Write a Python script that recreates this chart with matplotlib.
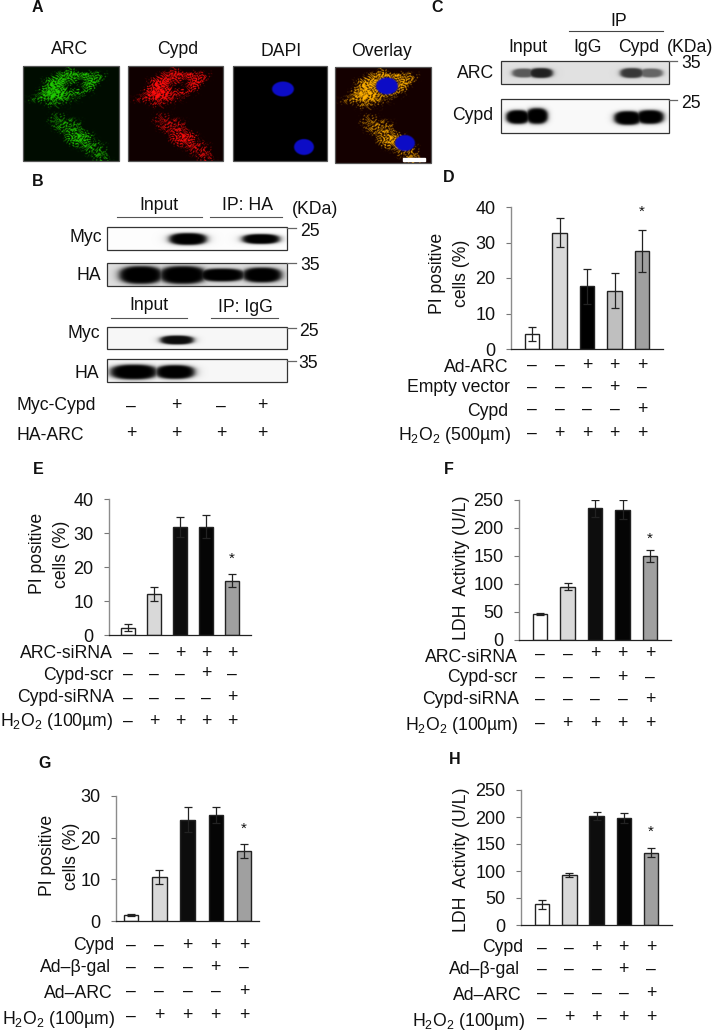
"""Multi-panel figure: micrographs, co-IP blots and bar charts (panels A-H)."""

import numpy as np
import matplotlib
matplotlib.use("Agg")
import matplotlib.pyplot as plt
from matplotlib.patches import Rectangle
from matplotlib.transforms import blended_transform_factory

plt.rcParams["font.family"] = ["Liberation Sans", "DejaVu Sans"]
plt.rcParams["mathtext.default"] = "regular"

W, H = 714, 1033
FS = 12.7

GRAYS = ["white", "#d9d9d9", "black", "#bfbfbf", "#a0a0a0"]
GRAYS_SI = ["white", "#d9d9d9", "#0d0d0d", "#050505", "#a0a0a0"]

# bar charts
d_values = [4.3, 32.8, 17.7, 16.4, 27.7]
d_errors = [2.0, 4.0, 4.9, 4.9, 5.9]
d_ticks = [0, 10, 20, 30, 40]
d_rows = ["Ad-ARC", "Empty vector", "Cypd", "H$_2$O$_2$ (500µm)"]
d_signs = ["--+++", "---+-", "----+", "-++++"]

e_values = [2.2, 12.0, 31.8, 31.8, 16.0]
e_errors = [1.0, 2.0, 3.0, 3.4, 2.0]
e_ticks = [0, 10, 20, 30, 40]
e_rows = ["ARC-siRNA", "Cypd-scr", "Cypd-siRNA", "H$_2$O$_2$ (100µm)"]
e_signs = ["--+++", "---+-", "----+", "-++++"]

f_values = [47, 95, 235, 233, 150]
f_errors = [1.5, 6, 15, 17, 10]
f_ticks = [0, 50, 100, 150, 200, 250]

g_values = [1.4, 10.5, 24.3, 25.4, 16.8]
g_errors = [0.3, 1.7, 3.0, 1.9, 1.6]
g_ticks = [0, 10, 20, 30]
g_rows = ["Cypd", "Ad–β-gal", "Ad–ARC", "H$_2$O$_2$ (100µm)"]
g_signs = ["--+++", "---+-", "----+", "-++++"]

h_values = [38, 93, 202, 198, 134]
h_errors = [8, 3.5, 7, 9, 8]
h_ticks = [0, 50, 100, 150, 200, 250]

# rough spot density of the two cells (rows top to bottom)
cell_density = [
    "0000000320000000",
    "0000036776654200",
    "0002678452576100",
    "0003776101660000",
    "0027887655310000",
    "1245676421000000",
    "0001331100000000",
    "0000010000000000",
    "0000132100000000",
    "0000244342000000",
    "0000024554000000",
    "0000002456520000",
    "0000000568631000",
    "0000000024553200",
    "0000000000245400",
    "0000000000013510",
]
nuclei_dapi = [(283, 89, 11, 7.5), (304, 147, 10, 8)]
nuclei_overlay = [(387, 86, 11, 8.5), (405, 143, 10, 8)]

# blot bands: centre x, centre y, half width, half height, darkness
blots_b = [
    ((107, 227, 287, 250), 0.99, [(188, 239, 19, 6, 1.0), (261, 239, 19, 5, 1.0)]),
    ((107, 263, 287, 286), 0.88, [(141, 275, 22, 9, 1.0), (183, 275, 24, 9, 1.0),
                                  (222, 275, 24, 6.5, 1.0), (262, 275, 20, 7.5, 1.0)]),
    ((107, 327, 287, 349), 0.97, [(177, 340, 17, 4.5, 0.95)]),
    ((107, 359, 287, 382), 0.97, [(134, 372, 24, 7.5, 1.0), (175, 372, 20, 7, 1.0)]),
]
blots_c = [
    ((501, 61, 669, 84), 0.88, [(524, 73, 12, 4.5, 0.6), (541, 73, 12, 5, 0.85),
                                (632, 73, 12, 5, 0.75), (651, 73, 12, 4.5, 0.55)]),
    ((501, 99, 669, 133), 0.98, [(518, 117, 12, 7, 1.0), (537, 116, 11, 8, 1.0),
                                 (628, 118, 14, 7, 1.0), (650, 117, 14, 7, 1.0)]),
]


def put(ov, x, y, s, ha="center", fs=FS, **kw):
    ov.text(x, y, s, ha=ha, va="center", fontsize=fs, color="#111111", **kw)


def density_image(size=192):
    grid = np.array([[int(c) for c in row] for row in cell_density], float) / 8.0
    u = (np.arange(size) + 0.5) / size * 16 - 0.5
    i0 = np.clip(np.floor(u).astype(int), 0, 15)
    i1 = np.clip(i0 + 1, 0, 15)
    t = np.clip(u - i0, 0, 1)
    rows = grid[i0][:, i0] * (1 - t)[:, None] + grid[i1][:, i0] * t[:, None]
    dens = rows * (1 - t)[None, :] + grid[i0][:, i1] * (1 - t)[:, None] * t[None, :] \
        + grid[i1][:, i1] * t[:, None] * t[None, :]
    # speckle of the staining: warped waves, spots get denser with the grid value
    yy, xx = np.mgrid[0:size, 0:size].astype(float)
    wx = xx + 5 * np.sin(yy * 0.11) + 3 * np.sin(yy * 0.29 + xx * 0.07)
    wy = yy + 5 * np.sin(xx * 0.13 + 1.0) + 3 * np.sin(xx * 0.31 - yy * 0.05)
    tex = np.sin(wx * 0.93 + wy * 0.31) + np.sin(wy * 1.07 - wx * 0.37) \
        + np.sin(wx * 0.51 - wy * 0.83 + 1.0) + np.sin(wx * 1.29 + wy * 0.71 + 2.0) \
        + np.sin(wx * 0.23 + wy * 1.43)
    tex = (tex + 5) / 10
    return np.clip((tex - (0.72 - dens * 0.42)) * 7, 0, 1) * np.clip(dens * 4, 0, 1)


def add_nuclei(img, box, nuclei):
    x0, y0, x1, y1 = box
    ny, nx = img.shape[:2]
    yy, xx = np.mgrid[0:ny, 0:nx]
    px = x0 + (xx + 0.5) / nx * (x1 - x0)
    py = y0 + (yy + 0.5) / ny * (y1 - y0)
    for cx, cy, rx, ry in nuclei:
        d = ((px - cx) / rx) ** 2 + ((py - cy) / ry) ** 2
        a = np.clip((1.15 - d) * 3, 0, 1)[..., None]
        img[:] = img * (1 - a) + a * np.array([0.05, 0.05, 0.78])
    return img


def show(ov, img, box, edge="#555555", **kw):
    x0, y0, x1, y1 = box
    ov.imshow(img, extent=(x0, x1, y1, y0), aspect="auto", zorder=2, **kw)
    ov.add_patch(Rectangle((x0, y0), x1 - x0, y1 - y0, fill=False, ec=edge, lw=0.9, zorder=3))


def micrographs(ov):
    dens = density_image()
    black = np.zeros(dens.shape + (3,))

    green = black.copy()
    green[..., 1] = dens * 0.75 + 0.05
    green[..., 0] = dens * 0.12
    show(ov, green, (23, 66, 119, 161), interpolation="bilinear")

    red = black.copy()
    red[..., 0] = dens * 0.95 + 0.06
    red[..., 1] = dens * 0.05
    red[..., 2] = dens * 0.05
    show(ov, np.clip(red, 0, 1), (128, 66, 223, 161), interpolation="bilinear")

    blue = add_nuclei(black.copy(), (233, 66, 327, 161), nuclei_dapi)
    show(ov, blue, (233, 66, 327, 161), interpolation="bilinear")

    over = black.copy()
    over[..., 0] = dens * 0.95 + 0.08
    over[..., 1] = dens * 0.7
    over = add_nuclei(np.clip(over, 0, 1), (335, 67, 431, 163), nuclei_overlay)
    show(ov, over, (335, 67, 431, 163), interpolation="bilinear")
    ov.add_patch(Rectangle((403, 158), 22, 3, color="white", zorder=4))

    put(ov, 70, 50, "ARC")
    put(ov, 178, 49, "Cypd")
    put(ov, 281, 52, "DAPI")
    put(ov, 381, 51, "Overlay")


def blot(ov, box, bg, bands):
    x0, y0, x1, y1 = box
    xs = np.arange(x0, x1, 0.5) + 0.25
    ys = np.arange(y0, y1, 0.5) + 0.25
    xx, yy = np.meshgrid(xs, ys)
    dark = np.zeros_like(xx)
    for cx, cy, hw, hh, level in bands:
        d = np.abs((xx - cx) / hw) ** 2.5 + np.abs((yy - cy) / hh) ** 2.5
        dark = np.maximum(dark, level / (1 + d ** 4))
    show(ov, bg * (1 - dark), box, edge="#333333", cmap="gray", vmin=0, vmax=1, interpolation="bilinear")


def marker(ov, x0, x1, y, label, lx, ly):
    ov.plot([x0, x1], [y, y], color="#666666", lw=0.9, zorder=3)
    put(ov, lx, ly, label)


def blots(ov):
    for box, bg, bands in blots_b + blots_c:
        blot(ov, box, bg, bands)

    # panel B
    put(ov, 159, 205, "Input")
    put(ov, 247, 205, "IP: HA")
    put(ov, 315, 209, "(KDa)")
    put(ov, 149, 306, "Input")
    put(ov, 245, 307, "IP: IgG")
    for x0, x1, y in [(117, 202, 217), (210, 282, 217), (111, 187, 318), (211, 278, 318)]:
        ov.plot([x0, x1], [y, y], color="#555555", lw=0.8, zorder=3)
    put(ov, 102, 238, "Myc", ha="right")
    put(ov, 101, 275, "HA", ha="right")
    put(ov, 100, 334, "Myc", ha="right")
    put(ov, 99, 374, "HA", ha="right")
    marker(ov, 287, 296, 228, "25", 310, 231)
    marker(ov, 287, 296, 263, "35", 310, 266)
    marker(ov, 287, 296, 328, "25", 309, 331)
    marker(ov, 287, 296, 361, "35", 308, 363)
    put(ov, 17, 406, "Myc-Cypd", ha="left")
    put(ov, 17, 435, "HA-ARC", ha="left")
    for x, a, b in zip([131, 176, 221, 262], "-+-+", "++++"):
        put(ov, x, 406, "–" if a == "-" else "+")
        put(ov, x, 434, "–" if b == "-" else "+")

    # panel C
    put(ov, 619, 21, "IP")
    ov.plot([569, 663], [31, 31], color="#444444", lw=0.8, zorder=3)
    put(ov, 528, 48, "Input")
    put(ov, 588, 48, "IgG")
    put(ov, 639, 48, "Cypd")
    put(ov, 690, 47, "(KDa)")
    put(ov, 494, 73, "ARC", ha="right")
    put(ov, 493, 115, "Cypd", ha="right")
    marker(ov, 669, 677, 61, "35", 691, 64)
    marker(ov, 669, 677, 100, "25", 691, 103)


def bar_panel(fig, ov, box, first, last, barw, values, errors, ticks, colors, star_y,
              rows, signs, row_y, label_xy, ylabels):
    x0, y_top, x1, y_bot = box
    ax = fig.add_axes([x0 / W, 1 - y_bot / H, (x1 - x0) / W, (y_bot - y_top) / H])
    ax.patch.set_alpha(0)
    step = (last - first) / 4
    pos = np.arange(len(values))
    ax.bar(pos, values, width=barw / step, color=colors, edgecolor="#222222", lw=1.0,
           yerr=errors, ecolor="#222222", capsize=2.6, error_kw={"elinewidth": 0.9, "capthick": 0.9})
    ax.set_xlim((x0 - first) / step, (x1 - first) / step)
    ax.set_ylim(ticks[0], ticks[-1])
    ax.set_xticks([])
    ax.set_yticks(ticks)
    ax.tick_params(axis="y", length=3.8, width=0.8, color="#777777", pad=7.4, labelsize=13,
                   labelcolor="#111111")
    for side in ["top", "right"]:
        ax.spines[side].set_visible(False)
    ax.spines["left"].set_color("#8c8c8c")
    ax.spines["left"].set_linewidth(1.0)
    ax.spines["bottom"].set_color("#222222")
    ax.spines["bottom"].set_linewidth(0.9)

    tr = blended_transform_factory(ax.transData, ov.transData)
    ax.text(pos[-1], star_y, "*", transform=tr, ha="center", va="center", fontsize=11, color="#111111")
    for row, y in zip(signs, row_y):
        for i, ch in enumerate(row):
            ax.text(pos[i], y, "–" if ch == "-" else "+", transform=tr, ha="center", va="center",
                    fontsize=FS, color="#111111")
    for name, (lx, ly) in zip(rows, label_xy):
        put(ov, lx, ly, name, ha="right")
    for text, lx, ly in ylabels:
        put(ov, lx, ly, text, rotation=90)


def main():
    fig = plt.figure(figsize=(W / 100, H / 100), dpi=100)
    ov = fig.add_axes([0, 0, 1, 1])
    ov.axis("off")

    micrographs(ov)
    blots(ov)
    ov.set_xlim(0, W)
    ov.set_ylim(H, 0)

    for letter, x, y in [("A", 37, 8), ("C", 437, 8), ("B", 38, 182), ("D", 449, 178),
                         ("E", 38, 470), ("F", 449, 470), ("G", 45, 764), ("H", 455, 760)]:
        put(ov, x, y, letter, fs=11.5, fontweight="bold")

    bar_panel(fig, ov, (511, 207, 663, 349), 532, 642, 14.5, d_values, d_errors, d_ticks, GRAYS, 212,
              d_rows, d_signs, [365, 387, 409, 433],
              [(508, 367), (510, 388), (508, 411), (511, 435)],
              [("PI positive", 438, 273), ("cells (%)", 461, 273)])
    bar_panel(fig, ov, (109, 499, 251, 635), 128, 232, 13.7, e_values, e_errors, e_ticks, GRAYS_SI, 559,
              e_rows, e_signs, [653, 674, 698, 721],
              [(113, 653), (113, 675), (114, 698), (113, 722)],
              [("PI positive", 38, 553), ("cells (%)", 62, 554)])
    bar_panel(fig, ov, (519, 500, 671, 640), 540, 650, 14.5, f_values, f_errors, f_ticks, GRAYS_SI, 539,
              e_rows, e_signs, [654, 677, 699, 723],
              [(518, 658), (517, 678), (519, 700), (518, 725)],
              [("LDH  Activity (U/L)", 461, 568)])
    bar_panel(fig, ov, (116, 796, 259, 921), 131, 244, 14.5, g_values, g_errors, g_ticks, GRAYS_SI, 829,
              g_rows, g_signs, [945, 967, 991, 1016],
              [(114, 945), (111, 968), (113, 993), (115, 1019)],
              [("PI positive", 48, 855), ("cells (%)", 72, 856)])
    bar_panel(fig, ov, (521, 790, 672, 925), 542, 651, 14.5, h_values, h_errors, h_ticks, GRAYS_SI, 832,
              g_rows, g_signs, [948, 969, 993, 1018],
              [(523, 948), (520, 970), (522, 995), (525, 1022)],
              [("LDH  Activity (U/L)", 462, 860)])

    fig.savefig("out.png", dpi=100)


main()
